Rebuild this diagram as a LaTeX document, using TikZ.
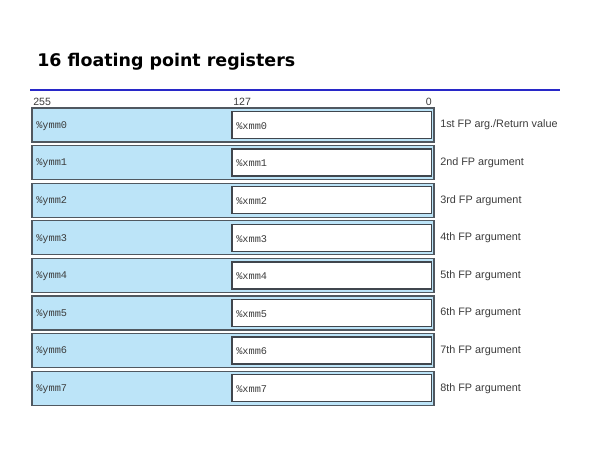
\documentclass[tikz,border=0pt]{standalone}
\usepackage{fontspec}
\setmainfont{Liberation Sans}
\setmonofont{Liberation Mono}
\newfontfamily\titlefont{DejaVu Sans}

\definecolor{regblue}{RGB}{188,228,248}
\definecolor{regedge}{RGB}{80,88,96}
\definecolor{rulebl}{RGB}{40,40,200}
\definecolor{txtgray}{RGB}{60,60,60}

\tikzset{
  regname/.style={anchor=west, inner sep=0pt, text=txtgray, font=\ttfamily\fontsize{7.3}{8}\selectfont},
  bitnum/.style={inner sep=0pt, text=txtgray, font=\fontsize{7.5}{8}\selectfont},
  regdesc/.style={anchor=west, inner sep=0pt, text=txtgray, font=\fontsize{7.7}{9}\selectfont}
}

\begin{document}
\begin{tikzpicture}[x=0.025cm, y=-0.025cm]

\useasboundingbox (0,0) rectangle (600,450) ;

\node [anchor=west, inner sep=0pt, font=\titlefont\bfseries\fontsize{12.4}{14}\selectfont] (title) at (37,62) {16 floating point registers} ;
\draw [rulebl, line width=2pt] (30,90) -- (560,90) ;

\node [bitnum, anchor=west] (b255) at (33,102) {255} ;
\node [bitnum, anchor=west] (b127) at (233,102) {127} ;
\node [bitnum, anchor=east] (b0) at (432,102) {0} ;

\foreach \i/\desc in {0/{1st FP arg./Return value}, 1/2nd FP argument, 2/3rd FP argument, 3/4th FP argument,
                      4/5th FP argument, 5/6th FP argument, 6/7th FP argument, 7/8th FP argument} {
  \pgfmathsetmacro{\t}{108+37.6*\i}
  \draw [fill=regblue, draw=regedge, line width=0.8pt] (32,\t) rectangle (434,\t+34) ;
  \draw [fill=white, draw=regedge!80!black, line width=1pt] (232,\t+3.5) rectangle (431.5,\t+30.5) ;
  \node [regname] (ymm\i) at (36,\t+18) {\%ymm\i} ;
  \node [regname] (xmm\i) at (236,\t+18) {\%xmm\i} ;
  \node [regdesc] (desc\i) at (440,\t+17) {\desc} ;
}

\end{tikzpicture}
\end{document}
